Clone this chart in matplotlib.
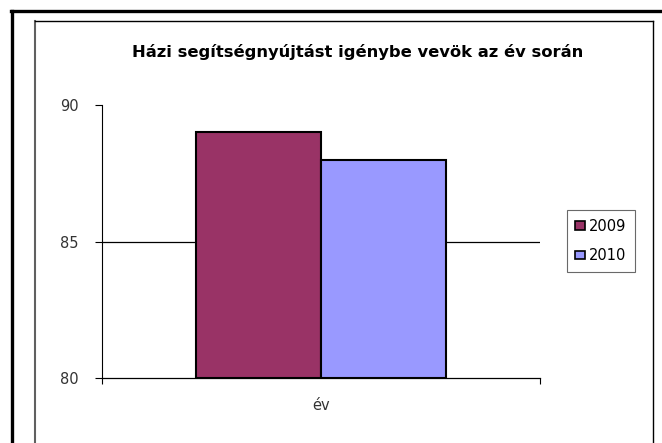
import matplotlib
matplotlib.use("Agg")
import matplotlib.pyplot as plt
from matplotlib.patches import Patch
from matplotlib.lines import Line2D

categories = ["év"]
series = ["2009", "2010"]
values = [89, 88]
colors = ["#993366", "#9999FF"]
title = "Házi segítségnyújtást igénybe vevök az év során"
yticks = [80, 85, 90]

W, H = 662, 443
plt.rcParams['font.family'] = ['DejaVu Sans']
fig = plt.figure(figsize=(W / 100, H / 100), dpi=100)

def fx(x):
    return x / W

def fy(y):
    return 1 - y / H

# frames
fig.add_artist(Line2D([fx(12), fx(12)], [fy(11), fy(460)], color="black", lw=2.4, transform=fig.transFigure))
fig.add_artist(Line2D([fx(11), fx(680)], [fy(11), fy(11)], color="black", lw=2.4, transform=fig.transFigure))
fig.add_artist(Line2D([fx(35), fx(35)], [fy(21), fy(460)], color="#606060", lw=1.5, transform=fig.transFigure))
fig.add_artist(Line2D([fx(35), fx(653)], [fy(21), fy(21)], color="black", lw=1.0, transform=fig.transFigure))
fig.add_artist(Line2D([fx(653), fx(653)], [fy(21), fy(460)], color="black", lw=1.0, transform=fig.transFigure))

ax = fig.add_axes([fx(102), fy(378), (540 - 102) / W, (378 - 105) / H])

bw = 0.285
n = len(series)
for i, (s, v, c) in enumerate(zip(series, values, colors)):
    off = (i - (n - 1) / 2) * bw
    ax.bar(0 + off, v - 80, bottom=80, width=bw, color=c, edgecolor="black", linewidth=1.5, label=s, zorder=3)

ax.axhline(85, color="black", lw=0.9, zorder=1)
ax.set_xlim(-0.5, 0.5)
ax.set_ylim(80, 90)
ax.set_yticks(yticks)
ax.set_yticklabels([str(t) for t in yticks], fontsize=10.5, color="#333333")
ax.tick_params(axis="y", direction="out", length=5, width=0.8, pad=12, color="black")
for s in ["top", "right"]:
    ax.spines[s].set_visible(False)
ax.spines["left"].set_linewidth(0.8)
ax.spines["bottom"].set_linewidth(0.9)
ax.set_xticks([-0.5, 0.5])
ax.set_xticklabels(["", ""])
ax.tick_params(axis="x", direction="out", length=4, width=0.8)
ax.text(0, -0.1, categories[0], transform=ax.get_xaxis_transform(), ha="center", va="center", fontsize=10.5, color="#333333")

fig.text(fx(358), fy(52), title, ha="center", va="center", fontsize=11.8, fontweight="bold", color="black")

handles = [Patch(facecolor=c, edgecolor="black", linewidth=1.2) for c in colors]
leg = fig.legend(handles, series, loc="center", bbox_to_anchor=(fx(601), fy(241)), frameon=True, fancybox=False,
                 edgecolor="#444444", fontsize=10.5, handlelength=0.65, handleheight=0.5, handletextpad=0.3,
                 labelspacing=1.0, borderpad=0.6, borderaxespad=0)
leg.get_frame().set_linewidth(0.8)

fig.savefig("out.png", dpi=100)
